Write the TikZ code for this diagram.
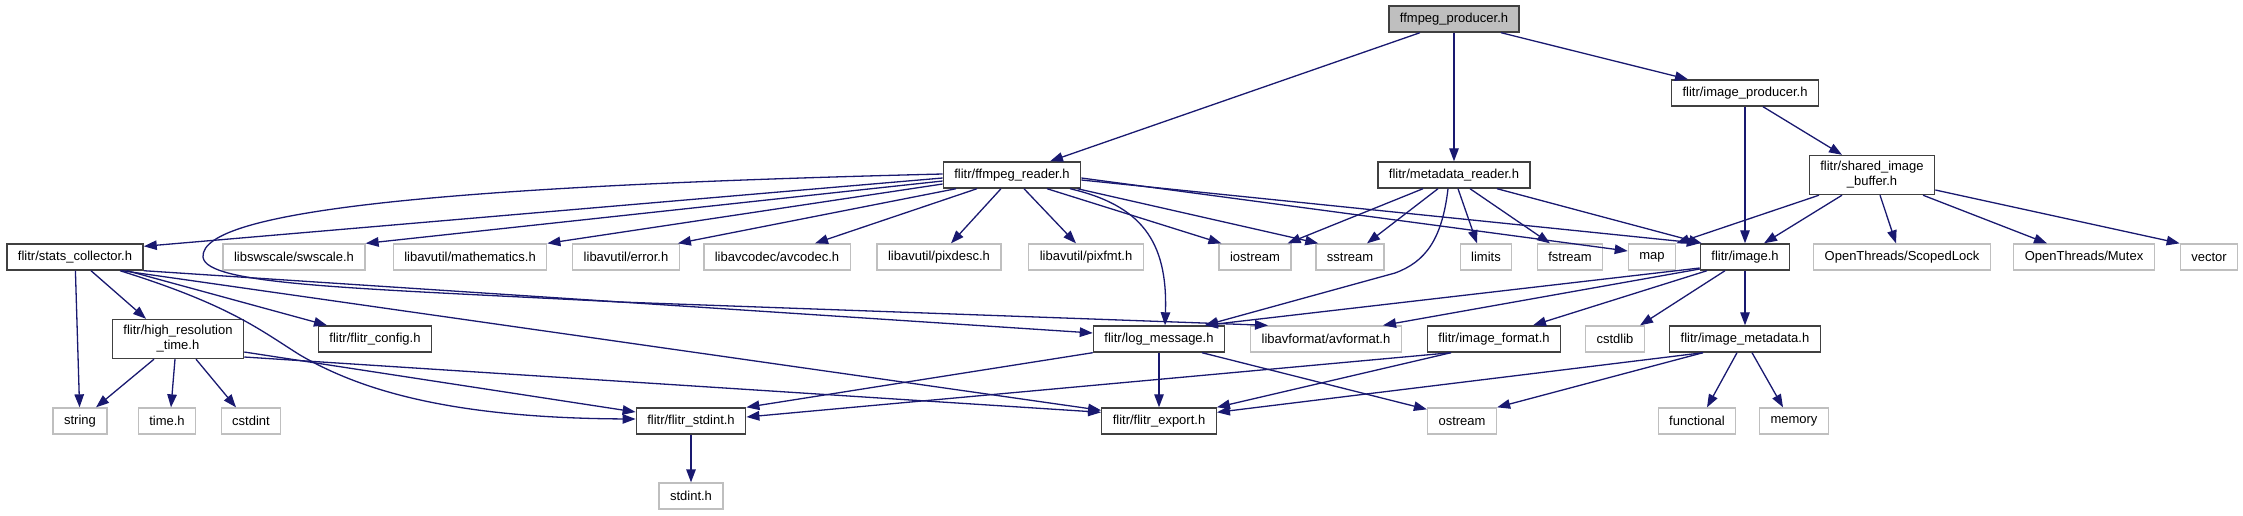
\documentclass[tikz,border=0pt]{standalone}
\usepackage{fontspec}
\setmainfont{Liberation Sans}
\usetikzlibrary{arrows.meta}

\begin{document}
\begin{tikzpicture}[
    x=1pt, y=-1pt,
    font=\fontsize{13}{15}\selectfont,
    >={Triangle[length=13pt,width=9.5pt]},
    hdr/.style={draw=hdrline, fill=white, line width=1.4pt, inner xsep=11pt, inner ysep=6pt, minimum height=26pt},
    sys/.style={draw=sysline, fill=white, line width=1.3pt, inner xsep=11pt, inner ysep=6pt, minimum height=26pt},
    edge/.style={->, draw=edgeblue, line width=1.3pt}
]

\definecolor{edgeblue}{HTML}{191970}
\definecolor{hdrline}{HTML}{404040}
\definecolor{sysline}{HTML}{BFBFBF}
\definecolor{rootgray}{HTML}{BFBFBF}

\useasboundingbox (0,0) rectangle (2243,515);

% ==========================================
% 1. HEADER NODES
% ==========================================

\node[hdr, fill=rootgray] (producer) at (1454,19) {ffmpeg\_producer.h};

\node[hdr] (iproducer) at (1745,93) {flitr/image\_producer.h};
\node[hdr] (freader) at (1012,175) {flitr/ffmpeg\_reader.h};
\node[hdr] (mreader) at (1454,175) {flitr/metadata\_reader.h};
\node[hdr, align=center] (sbuffer) at (1872,175) {flitr/shared\_image\\\_buffer.h};

% third row
\node[hdr] (stats) at (75,257) {flitr/stats\_collector.h};
\node[sys] (swscale) at (294,257) {libswscale/swscale.h};
\node[sys] (math) at (470,257) {libavutil/mathematics.h};
\node[sys] (error) at (626,257) {libavutil/error.h};
\node[sys] (avcodec) at (777,257) {libavcodec/avcodec.h};
\node[sys] (pixdesc) at (939,257) {libavutil/pixdesc.h};
\node[sys] (pixfmt) at (1086,257) {libavutil/pixfmt.h};
\node[sys] (iostream) at (1255,257) {iostream};
\node[sys] (sstream) at (1350,257) {sstream};
\node[sys] (limits) at (1486,257) {limits};
\node[sys] (fstream) at (1570,257) {fstream};
\node[sys] (map) at (1652,257) {map};
\node[hdr] (image) at (1745,257) {flitr/image.h};
\node[sys] (slock) at (1902,257) {OpenThreads/ScopedLock};
\node[sys] (mutex) at (2084,257) {OpenThreads/Mutex};
\node[sys] (vector) at (2209,257) {vector};

% fourth row
\node[hdr, align=center] (hires) at (178,339) {flitr/high\_resolution\\\_time.h};
\node[hdr] (config) at (375,339) {flitr/flitr\_config.h};
\node[hdr] (logmsg) at (1159,339) {flitr/log\_message.h};
\node[sys] (avformat) at (1326,339) {libavformat/avformat.h};
\node[hdr] (iformat) at (1494,339) {flitr/image\_format.h};
\node[sys] (cstdlib) at (1615,339) {cstdlib};
\node[hdr] (imeta) at (1745,339) {flitr/image\_metadata.h};

% fifth row
\node[sys] (string) at (80,421) {string};
\node[sys] (timeh) at (167,421) {time.h};
\node[sys] (cstdint) at (251,421) {cstdint};
\node[hdr] (fstdint) at (691,421) {flitr/flitr\_stdint.h};
\node[hdr] (fexport) at (1159,421) {flitr/flitr\_export.h};
\node[sys] (ostream) at (1462,421) {ostream};
\node[sys] (functional) at (1697,421) {functional};
\node[sys] (memory) at (1794,421) {memory};

\node[sys] (stdintsys) at (691,496) {stdint.h};

% ==========================================
% 2. INCLUDE EDGES
% ==========================================

% ffmpeg_producer.h
\draw[edge] ([xshift=-34pt]producer.south) -- ([xshift=38pt]freader.north);
\draw[edge] (producer) -- (mreader);
\draw[edge] ([xshift=47pt]producer.south) -- ([xshift=-57pt]iproducer.north);

% image_producer.h and shared_image_buffer.h
\draw[edge] (iproducer) -- (image);
\draw[edge] ([xshift=18pt]iproducer.south) -- ([xshift=-30pt]sbuffer.north);
\draw[edge] ([xshift=-30pt]sbuffer.south) -- ([xshift=19pt]image.north);
\draw[edge] ([xshift=-53pt]sbuffer.south) -- (map.north east);
\draw[edge] ([xshift=8pt]sbuffer.south) -- ([xshift=-6pt]slock.north);
\draw[edge] ([xshift=51pt]sbuffer.south) -- ([xshift=-37pt]mutex.north);
\draw[edge] ([yshift=-15pt]sbuffer.east) -- (vector.north west);

% ffmpeg_reader.h
\draw[edge] ([yshift=-3pt]freader.west) -- ([yshift=-3pt]stats.north east);
\draw[edge] ([yshift=-6pt]freader.west) -- (swscale.north east);
\draw[edge] ([yshift=-9pt]freader.west) -- (math.north east);
\draw[edge] ([xshift=-56pt]freader.south) -- ([xshift=-2pt]error.north east);
\draw[edge] ([xshift=-35pt]freader.south) -- ([xshift=38pt]avcodec.north);
\draw[edge] ([xshift=-11pt]freader.south) -- ([xshift=12pt]pixdesc.north);
\draw[edge] ([xshift=12pt]freader.south) -- ([xshift=-10pt]pixfmt.north);
\draw[edge] ([xshift=35pt]freader.south) -- ([xshift=3pt]iostream.north west);
\draw[edge] ([xshift=-4pt]freader.south east) -- ([xshift=3pt]sstream.north west);
\draw[edge] ([yshift=-3pt]freader.east) -- ([yshift=6pt]map.west);
\draw[edge] ([yshift=-5pt]freader.east) -- (image.north west);
\draw[edge] ([xshift=58pt]freader.south) .. controls (1140,205) and (1168,240) .. ([xshift=6pt]logmsg.north);
\draw[edge] ([yshift=1pt]freader.west) .. controls (450,186) and (200,210) .. (203,257)
    .. controls (206,285) and (350,288) .. (620,302) -- ([xshift=-58pt]avformat.north);

% metadata_reader.h
\draw[edge] ([xshift=-31pt]mreader.south) -- ([xshift=-4pt]iostream.north east);
\draw[edge] ([xshift=-16pt]mreader.south) -- ([xshift=17pt]sstream.north);
\draw[edge] ([xshift=4pt]mreader.south) -- ([xshift=-9pt]limits.north);
\draw[edge] ([xshift=16pt]mreader.south) -- ([xshift=-20pt]fstream.north);
\draw[edge] ([xshift=43pt]mreader.south) -- ([xshift=2pt]image.north west);
\draw[edge] ([xshift=-6pt]mreader.south) .. controls (1442,240) and (1425,262) .. (1395,273)
    -- ([xshift=46pt]logmsg.north);

% stats_collector.h
\draw[edge] (stats) -- (string);
\draw[edge] ([xshift=16pt]stats.south) -- ([xshift=-32pt]hires.north);
\draw[edge] ([xshift=52pt]stats.south) -- ([xshift=-48pt]config.north);
\draw[edge] ([xshift=45pt]stats.south) .. controls (230,305) and (260,330) .. (300,355)
    .. controls (360,390) and (450,418) .. ([yshift=2pt]fstdint.west);
\draw[edge] ([xshift=47pt]stats.south) -- ([yshift=-3pt]fexport.north west);
\draw[edge] (stats.south east) -- ([yshift=6pt]logmsg.west);

% high_resolution_time.h
\draw[edge] ([xshift=-24pt]hires.south) -- ([xshift=16pt]string.north);
\draw[edge] ([xshift=-3pt]hires.south) -- ([xshift=4pt]timeh.north);
\draw[edge] ([xshift=18pt]hires.south) -- ([xshift=-15pt]cstdint.north);
\draw[edge] ([yshift=-13pt]hires.east) -- ([yshift=9pt]fstdint.west);
\draw[edge] ([yshift=-18pt]hires.east) -- ([yshift=-5pt]fexport.north west);

% log_message.h and image_format.h
\draw[edge] (logmsg.south west) -- (fstdint.north east);
\draw[edge] (logmsg) -- (fexport);
\draw[edge] ([xshift=43pt]logmsg.south) -- ([yshift=-2pt]ostream.north west);
\draw[edge] ([xshift=-43pt]iformat.south) -- ([yshift=4pt]fstdint.east);
\draw[edge] ([xshift=-43pt]iformat.south) -- (fexport.north east);

% image.h
\draw[edge] ([yshift=-11pt]image.west) -- ([xshift=46pt]logmsg.north);
\draw[edge] ([yshift=-12pt]image.west) -- ([xshift=57pt]avformat.north);
\draw[edge] ([xshift=-38pt]image.south) -- ([xshift=39pt]iformat.north);
\draw[edge] ([xshift=-20pt]image.south) -- ([xshift=25pt]cstdlib.north);
\draw[edge] (image) -- (imeta);

% image_metadata.h
\draw[edge] ([xshift=-42pt]imeta.south) -- ([yshift=-5pt]fexport.north east);
\draw[edge] ([xshift=-42pt]imeta.south) -- (ostream.north east);
\draw[edge] ([xshift=-8pt]imeta.south) -- ([xshift=10pt]functional.north);
\draw[edge] ([xshift=7pt]imeta.south) -- ([xshift=-11pt]memory.north);

% flitr_stdint.h
\draw[edge] (fstdint) -- (stdintsys);

\end{tikzpicture}
\end{document}
